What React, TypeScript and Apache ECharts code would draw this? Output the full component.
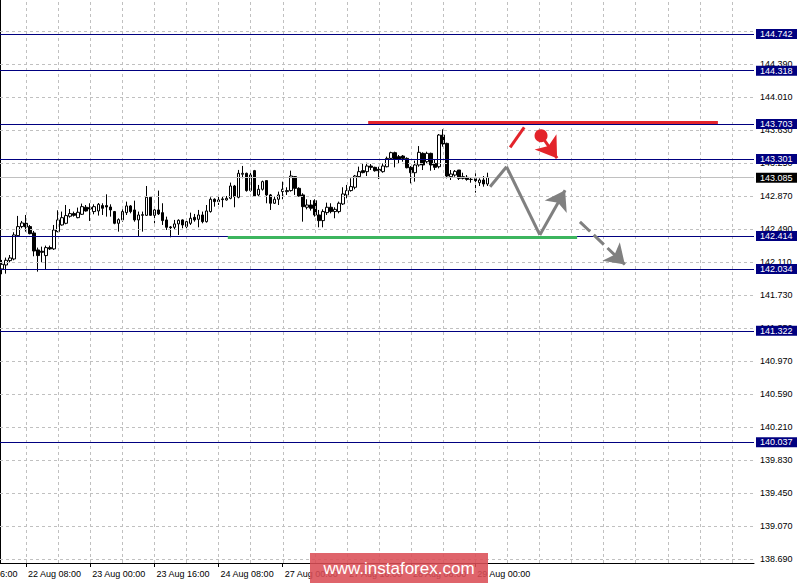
import React, { useEffect, useRef } from "react";
import * as echarts from "echarts";

// ---- candle data (H1 bars) ----
const opens = [
  142.034, 142.080, 142.130, 142.149, 142.418, 142.522, 142.560, 142.522, 142.449, 142.253,
  142.238, 142.188, 142.280, 142.265, 142.464, 142.541, 142.560, 142.641, 142.672, 142.625,
  142.664, 142.745, 142.741, 142.695, 142.702, 142.764, 142.764, 142.748, 142.695, 142.560,
  142.599, 142.683, 142.760, 142.714, 142.599, 142.652, 142.652, 142.860, 142.652, 142.714,
  142.683, 142.599, 142.518, 142.514, 142.553, 142.599, 142.522, 142.560, 142.629, 142.606,
  142.656, 142.579, 142.695, 142.837, 142.829, 142.841, 142.829, 142.848, 142.990, 142.860,
  143.125, 143.136, 142.937, 143.167, 142.887, 142.952, 143.052, 142.887, 142.791, 142.837,
  142.925, 142.925, 142.937, 143.098, 142.963, 142.887, 142.745, 142.771, 142.821, 142.656,
  142.591, 142.683, 142.745, 142.695, 142.695, 142.783, 142.887, 142.937, 142.975, 143.098,
  143.167, 143.155, 143.220, 143.205, 143.182, 143.155, 143.212, 143.308, 143.374, 143.328,
  143.335, 143.308, 143.205, 143.143, 143.232, 143.366, 143.270, 143.366, 143.250, 143.212,
  143.577, 143.481, 143.097, 143.116, 143.174, 143.097, 143.090, 143.066, 143.074, 143.028,
  143.059, 143.013,
];
const closes = [
  142.088, 142.134, 142.161, 142.426, 142.522, 142.564, 142.518, 142.441, 142.241, 142.188,
  142.226, 142.280, 142.265, 142.483, 142.599, 142.625, 142.649, 142.672, 142.652, 142.687,
  142.752, 142.702, 142.725, 142.752, 142.779, 142.733, 142.748, 142.714, 142.560, 142.602,
  142.695, 142.760, 142.695, 142.599, 142.656, 142.660, 142.860, 142.652, 142.714, 142.668,
  142.591, 142.514, 142.510, 142.553, 142.595, 142.541, 142.579, 142.618, 142.599, 142.656,
  142.579, 142.702, 142.837, 142.810, 142.810, 142.833, 142.848, 142.990, 142.867, 143.136,
  143.136, 142.937, 143.117, 142.875, 142.952, 143.040, 142.887, 142.791, 142.837, 142.887,
  142.952, 142.937, 143.105, 142.963, 142.875, 142.752, 142.771, 142.733, 142.656, 142.591,
  142.695, 142.745, 142.695, 142.721, 142.791, 142.898, 142.937, 142.983, 143.105, 143.155,
  143.144, 143.220, 143.205, 143.166, 143.166, 143.220, 143.308, 143.374, 143.297, 143.297,
  143.308, 143.201, 143.143, 143.232, 143.378, 143.232, 143.366, 143.232, 143.205, 143.577,
  143.474, 143.105, 143.128, 143.159, 143.078, 143.078, 143.066, 143.066, 143.051, 143.059,
  143.013, 143.090,
];
const lows = [
  141.973, 141.980, 142.111, 142.134, 142.410, 142.503, 142.464, 142.433, 142.180, 142.003,
  142.111, 142.023, 142.253, 142.253, 142.457, 142.533, 142.549, 142.625, 142.637, 142.618,
  142.656, 142.695, 142.587, 142.664, 142.649, 142.656, 142.637, 142.637, 142.549, 142.464,
  142.579, 142.656, 142.675, 142.579, 142.414, 142.464, 142.645, 142.645, 142.560, 142.656,
  142.541, 142.483, 142.399, 142.483, 142.426, 142.503, 142.503, 142.541, 142.579, 142.514,
  142.560, 142.568, 142.683, 142.752, 142.771, 142.745, 142.821, 142.837, 142.745, 142.848,
  143.079, 142.925, 142.925, 142.867, 142.875, 142.937, 142.791, 142.714, 142.783, 142.771,
  142.837, 142.887, 142.925, 142.887, 142.867, 142.579, 142.721, 142.706, 142.637, 142.514,
  142.514, 142.656, 142.675, 142.618, 142.675, 142.771, 142.848, 142.925, 142.952, 143.090,
  143.136, 143.105, 143.174, 143.155, 143.070, 143.143, 143.205, 143.297, 143.205, 143.250,
  143.270, 143.193, 143.020, 143.040, 143.212, 143.174, 143.243, 143.166, 143.174, 143.193,
  143.443, 143.078, 143.059, 143.097, 143.059, 143.066, 143.051, 143.028, 142.913, 142.990,
  142.982, 142.990,
];
const highs = [
  142.138, 142.165, 142.195, 142.457, 142.645, 142.587, 142.656, 142.541, 142.472, 142.280,
  142.291, 142.303, 142.303, 142.541, 142.710, 142.695, 142.771, 142.725, 142.695, 142.741,
  142.787, 142.771, 142.791, 142.779, 142.794, 142.791, 142.894, 142.779, 142.702, 142.617,
  142.721, 142.810, 142.771, 142.821, 142.695, 142.695, 142.990, 142.867, 142.733, 142.937,
  142.791, 142.637, 142.529, 142.599, 142.606, 142.606, 142.618, 142.683, 142.668, 142.714,
  142.695, 142.771, 142.860, 142.848, 142.875, 142.867, 142.875, 143.029, 143.002, 143.175,
  143.221, 143.144, 143.175, 143.175, 143.002, 143.052, 143.052, 142.898, 142.867, 142.925,
  143.040, 142.975, 143.167, 143.105, 142.975, 142.906, 142.837, 142.829, 142.837, 142.714,
  142.721, 142.798, 142.791, 142.745, 142.810, 142.975, 143.002, 143.079, 143.117, 143.213,
  143.251, 143.258, 143.243, 143.212, 143.212, 143.250, 143.328, 143.385, 143.385, 143.347,
  143.347, 143.320, 143.220, 143.282, 143.450, 143.378, 143.385, 143.374, 143.297, 143.589,
  143.643, 143.489, 143.174, 143.174, 143.174, 143.143, 143.116, 143.090, 143.136, 143.078,
  143.105, 143.143,
];

// ---- axes ----
const SLOT_COUNT = 188;
const xTickBars = [6, 22, 38, 54, 70, 86, 102, 118];
const xTickLabels = [
  "22 Aug 08:00", "23 Aug 00:00", "23 Aug 16:00", "24 Aug 08:00",
  "27 Aug 00:00", "27 Aug 16:00", "28 Aug 08:00", "29 Aug 00:00",
];
const yTicks = [
  138.69, 139.07, 139.45, 139.83, 140.21, 140.59, 140.97, 141.35, 141.73,
  142.11, 142.49, 142.87, 143.25, 143.63, 144.01, 144.39, 144.77,
];
const Y_MIN = 138.646;
const Y_MAX = 145.133;

// ---- levels ----
const levelValues = [144.742, 144.318, 143.703, 143.301, 142.414, 142.034, 141.322, 140.037];
const currentPrice = 143.085;

// ---- annotations (x in bar units, y in price) ----
const resistanceLine = [[91.8, 143.72], [179.0, 143.72]];
const supportLine = [[56.8, 142.4], [143.9, 142.4]];
const grayPath = [[122.2, 142.982], [126.3, 143.212], [134.6, 142.426]];
const grayArrow = [[134.6, 142.426], [140.9, 142.94]];
const grayDashedArrow = [[144.6, 142.577], [155.8, 142.085]];
const redStroke = [[127.2, 143.436], [130.7, 143.666]];
const redDot = [134.9, 143.569];
const redArrow = [[135.7, 143.52], [138.9, 143.31]];

const FONT = "'Liberation Sans', Arial, sans-serif";

function seg(points: number[][], endSymbol?: string, endSize?: number) {
  const out: any[] = [];
  for (let i = 0; i < points.length - 1; i++) {
    const last = i === points.length - 2;
    const end: any = { coord: points[i + 1] };
    if (last && endSymbol) {
      end.symbol = endSymbol;
      end.symbolSize = endSize;
    }
    out.push([{ coord: points[i], symbol: "none" }, end]);
  }
  return out;
}

export default function App() {
  const ref = useRef<HTMLDivElement>(null);
  useEffect(() => {
    if (!ref.current) return;
    const chart = echarts.init(ref.current, null, { renderer: "svg" });
    const categories = Array.from({ length: SLOT_COUNT }, (_, i) => {
      const k = xTickBars.indexOf(i);
      return k >= 0 ? xTickLabels[k] : "";
    });
    const showIdx = (i: number) => xTickBars.indexOf(i) >= 0;
    const candles = opens.map((o, i) => [o, closes[i], lows[i], highs[i]]);
    const vGrid: number[] = [];
    for (let b = 6; b < SLOT_COUNT; b += 8) vGrid.push(b + 0.5);

    const annoLine = (name: string, data: any[], color: string, opts: any = {}) => ({
      type: "line",
      name,
      xAxisIndex: 1,
      data: [],
      silent: true,
      z: opts.z ?? 5,
      markLine: {
        silent: true,
        animation: false,
        symbol: opts.symbol ?? ["none", "none"],
        symbolSize: opts.symbolSize ?? 10,
        label: { show: false },
        itemStyle: { color },
        lineStyle: { color, width: opts.width ?? 3, type: opts.type ?? "solid", opacity: 1 },
        emphasis: { disabled: true },
        data,
      },
    });

    const levelLabel = (bg: string) => ({
      show: true,
      position: "end",
      distance: 2,
      formatter: (p: any) => Number(p.value).toFixed(3),
      color: "#fff",
      backgroundColor: bg,
      fontSize: 9,
      fontFamily: FONT,
      lineHeight: 10,
      padding: [0, 6, 0, 4],
    });

    chart.setOption({
      animation: false,
      backgroundColor: "#ffffff",
      textStyle: { fontFamily: FONT },
      grid: { left: 0, top: 0, width: 754, height: 563, containLabel: false },
      xAxis: [
        {
          type: "category",
          data: categories,
          boundaryGap: true,
          axisLine: { show: true, lineStyle: { color: "#000", width: 1 } },
          axisTick: { show: true, alignWithLabel: true, interval: showIdx, length: 4, lineStyle: { color: "#000" } },
          axisLabel: {
            show: true,
            interval: showIdx,
            align: "left",
            color: "#000",
            fontSize: 9,
            fontFamily: FONT,
            margin: 6,
            padding: [0, 0, 0, 2],
          },
          splitLine: { show: false },
        },
        { type: "value", min: 0, max: SLOT_COUNT, show: false },
      ],
      yAxis: {
        type: "value",
        position: "right",
        min: Y_MIN,
        max: Y_MAX,
        scale: true,
        axisLine: { show: true, lineStyle: { color: "#000", width: 1 } },
        axisTick: { show: true, customValues: yTicks, length: 3, lineStyle: { color: "#000" } },
        axisLabel: {
          show: true,
          customValues: yTicks,
          formatter: (v: number) => v.toFixed(3),
          color: "#000",
          fontSize: 9,
          fontFamily: FONT,
          margin: 6,
        },
        splitLine: { show: false },
      },
      graphic: [
        {
          type: "text",
          left: 0,
          top: 569,
          style: { text: "6:00", fill: "#000", font: `9px ${FONT}` },
          z: 10,
        },
        {
          type: "rect",
          shape: { x: 310, y: 553, width: 178, height: 31 },
          style: { fill: "rgba(219, 78, 86, 0.88)" },
          z: 20,
        },
        {
          type: "text",
          x: 399,
          y: 568.5,
          style: {
            text: "www.instaforex.com",
            fill: "#ffffff",
            font: `17px ${FONT}`,
            align: "center",
            verticalAlign: "middle",
          },
          z: 21,
        },
      ],
      series: [
        {
          type: "line",
          name: "hgrid",
          data: [],
          z: 1,
          silent: true,
          markLine: {
            silent: true,
            symbol: ["none", "none"],
            label: { show: false },
            lineStyle: { color: "#c0c0c0", width: 1, type: [3, 3] },
            data: yTicks.map((v) => ({ yAxis: v })),
          },
        },
        {
          type: "line",
          name: "vgrid",
          xAxisIndex: 1,
          data: [],
          z: 1,
          silent: true,
          markLine: {
            silent: true,
            symbol: ["none", "none"],
            label: { show: false },
            lineStyle: { color: "#c0c0c0", width: 1, type: [3, 3] },
            data: vGrid.map((v) => ({ xAxis: v })),
          },
        },
        {
          type: "line",
          name: "current",
          data: [],
          z: 2,
          silent: true,
          markLine: {
            silent: true,
            precision: 3,
            symbol: ["none", "none"],
            lineStyle: { color: "#c0c0c0", width: 1, type: "solid" },
            label: levelLabel("#000"),
            data: [{ yAxis: currentPrice }],
          },
        },
        {
          type: "candlestick",
          name: "price",
          data: candles,
          barWidth: 3,
          z: 3,
          itemStyle: {
            color: "#ffffff",
            color0: "#000000",
            borderColor: "#000000",
            borderColor0: "#000000",
            borderWidth: 1,
          },
        },
        {
          type: "line",
          name: "levels",
          data: [],
          z: 4,
          silent: true,
          markLine: {
            silent: true,
            precision: 3,
            symbol: ["none", "none"],
            lineStyle: { color: "#000080", width: 1, type: "solid" },
            label: levelLabel("#000080"),
            data: levelValues.map((v) => ({ yAxis: v })),
          },
        },
        annoLine("resistance", seg(resistanceLine), "#e3242b", { width: 3, z: 6 }),
        annoLine("support", seg(supportLine), "#3cb55e", { width: 3, z: 6 }),
        annoLine("grayPath", seg(grayPath), "#808080", { width: 3 }),
        annoLine("grayArrow", seg(grayArrow, "arrow", 19), "#808080", {
          width: 3,
          symbol: ["none", "arrow"],
          symbolSize: 19,
        }),
        annoLine("grayDashed", seg(grayDashedArrow, "arrow", 19), "#808080", {
          width: 3,
          type: [14, 5],
          symbol: ["none", "arrow"],
          symbolSize: 19,
        }),
        annoLine("redStroke", seg(redStroke), "#e3242b", { width: 3 }),
        annoLine("redArrow", seg(redArrow, "arrow", 20), "#e3242b", {
          width: 3,
          symbol: ["none", "arrow"],
          symbolSize: 20,
        }),
        {
          type: "scatter",
          name: "redDot",
          xAxisIndex: 1,
          data: [redDot],
          symbolSize: 13,
          z: 7,
          silent: true,
          itemStyle: { color: "#e3242b", opacity: 1 },
        },
      ],
    });
    return () => chart.dispose();
  }, []);
  return (
    <div
      ref={ref}
      style={{ position: "fixed", left: 0, top: 0, width: 797, height: 583, background: "#fff" }}
    />
  );
}
